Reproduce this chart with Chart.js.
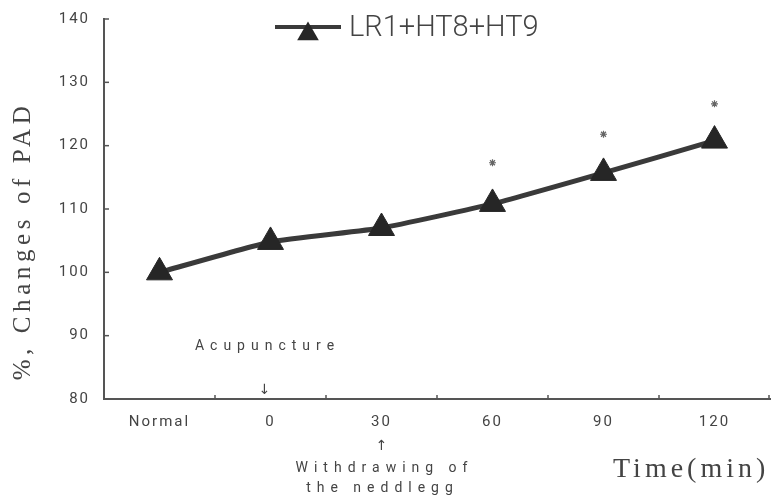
<!DOCTYPE html>
<html>
<head>
<meta charset="utf-8">
<script src="https://cdn.jsdelivr.net/npm/chart.js@4.4.1/dist/chart.umd.min.js"></script>
<style>
  html, body { margin: 0; padding: 0; background: #fff; }
  #wrap { width: 772px; height: 497px; position: relative; }
</style>
</head>
<body>
<div id="wrap"><canvas id="c" width="772" height="497"></canvas></div>
<script>
// ---- data ----
const categories = ['Normal', '0', '30', '60', '90', '120'];
const padValues = [100, 104.8, 107, 110.8, 115.7, 120.8];
const significanceMarks = [null, null, null, 117.3, 121.8, 126.6];
const seriesLabel = 'LR1+HT8+HT9';
const yAxisTitle = '%, Changes of PAD';
const xAxisTitle = 'Time(min)';
const yMin = 80, yMax = 140, yStep = 10;
const acupunctureText = 'Acupuncture';
const withdrawText = ['Withdrawing of', 'the neddlegg'];

const INK = '#3a3a3a';
const TEXT = '#444';

const decorPlugin = {
  id: 'decor',
  afterLayout(chart) {
    // stretch the plot area to the right edge like the original figure
    const xs = chart.scales.x;
    const R = chart.width - 2;
    xs.right = R;
    xs.width = R - xs.left;
    xs.configure();
    chart.chartArea.right = R;
    chart.chartArea.width = R - chart.chartArea.left;
  },
  beforeDraw(chart) {
    chart.ctx.letterSpacing = '2px';
  },
  afterDraw(chart) {
    const ctx = chart.ctx;
    const xs = chart.scales.x, ys = chart.scales.y;
    ctx.save();
    // inner ticks on y axis
    ctx.strokeStyle = '#555';
    ctx.lineWidth = 1.5;
    ys.ticks.forEach(t => {
      const py = ys.getPixelForValue(t.value);
      ctx.beginPath();
      ctx.moveTo(xs.left, py);
      ctx.lineTo(xs.left + 5, py);
      ctx.stroke();
    });
    // inner ticks on x axis at category boundaries
    const n = categories.length;
    for (let i = 1; i <= n; i++) {
      const px = i < n ? (xs.getPixelForValue(i - 1) + xs.getPixelForValue(i)) / 2 : xs.right - 1;
      ctx.beginPath();
      ctx.moveTo(px, ys.bottom);
      ctx.lineTo(px, ys.bottom - 4);
      ctx.stroke();
    }
    // legend
    const ds = chart.data.datasets[0];
    const ly = 27;
    ctx.strokeStyle = ds.borderColor;
    ctx.lineWidth = 4;
    ctx.beginPath();
    ctx.moveTo(275, ly);
    ctx.lineTo(341, ly);
    ctx.stroke();
    ctx.fillStyle = ds.pointBackgroundColor;
    ctx.beginPath();
    const r = 12.5;
    ctx.moveTo(308, ly + 7 - r);
    ctx.lineTo(308 + r * 0.866, ly + 7 + r / 2);
    ctx.lineTo(308 - r * 0.866, ly + 7 + r / 2);
    ctx.closePath();
    ctx.fill();
    ctx.letterSpacing = '0px';
    ctx.fillStyle = TEXT;
    ctx.font = '300 29px Roboto';
    ctx.textAlign = 'left';
    ctx.textBaseline = 'middle';
    ctx.fillText(ds.label, 349, 29);

    // y axis title
    ctx.save();
    ctx.translate(23, 241);
    ctx.rotate(-Math.PI / 2);
    ctx.font = '25px "Liberation Serif"';
    ctx.letterSpacing = '4.6px';
    ctx.textAlign = 'center';
    ctx.fillText(yAxisTitle, 0, 0);
    ctx.restore();

    // x axis title
    ctx.font = '28px "Liberation Serif"';
    ctx.letterSpacing = '4px';
    ctx.textAlign = 'left';
    ctx.fillText(xAxisTitle, 613, 470);

    // annotations
    const b = ys.bottom;
    const p0 = xs.getPixelForValue(1) - 6;
    const p30 = xs.getPixelForValue(2);
    ctx.font = '14px Roboto';
    ctx.letterSpacing = '6px';
    ctx.textAlign = 'center';
    ctx.fillText(acupunctureText, p0 + 3, b - 53);
    ctx.fillText(withdrawText[0], p30 + 3, b + 69);
    ctx.fillText(withdrawText[1], p30 + 1, b + 89);
    ctx.letterSpacing = '0px';
    ctx.font = '14px "DejaVu Sans"';
    ctx.fillText('\u2193', p0, b - 9);
    ctx.fillText('\u2191', p30, b + 47);
    ctx.restore();
  }
};

new Chart(document.getElementById('c'), {
  type: 'line',
  data: {
    labels: categories,
    datasets: [
      {
        label: seriesLabel,
        data: padValues,
        borderColor: INK,
        borderWidth: 5,
        tension: 0.15,
        pointStyle: 'triangle',
        pointRadius: 15,
        pointBackgroundColor: '#262626',
        pointBorderColor: '#262626',
        pointBorderWidth: 1
      },
      {
        label: 'significance',
        data: significanceMarks,
        showLine: false,
        pointStyle: 'star',
        pointRadius: 3.5,
        pointBorderColor: '#666',
        pointBorderWidth: 1.2,
        pointBackgroundColor: '#666'
      }
    ]
  },
  options: {
    responsive: false,
    animation: false,
    devicePixelRatio: 1,
    layout: { padding: { left: 0, right: 2, top: 19, bottom: 0 } },
    plugins: { legend: { display: false }, tooltip: { enabled: false } },
    scales: {
      x: {
        offset: true,
        grid: { display: false, drawTicks: false },
        border: { display: true, color: '#555', width: 2 },
        ticks: { color: TEXT, font: { family: 'Roboto', size: 15 }, padding: 14, maxRotation: 0 },
        afterFit(s) { s.height = 98; }
      },
      y: {
        min: yMin, max: yMax,
        grid: { display: false, drawTicks: false },
        border: { display: true, color: '#555', width: 2 },
        ticks: { stepSize: yStep, color: TEXT, font: { family: 'Roboto', size: 15 }, padding: 14 },
        afterFit(s) { s.width = 104; s.paddingTop = 0; s.paddingBottom = 0; }
      }
    }
  },
  plugins: [decorPlugin]
});
</script>
</body>
</html>
